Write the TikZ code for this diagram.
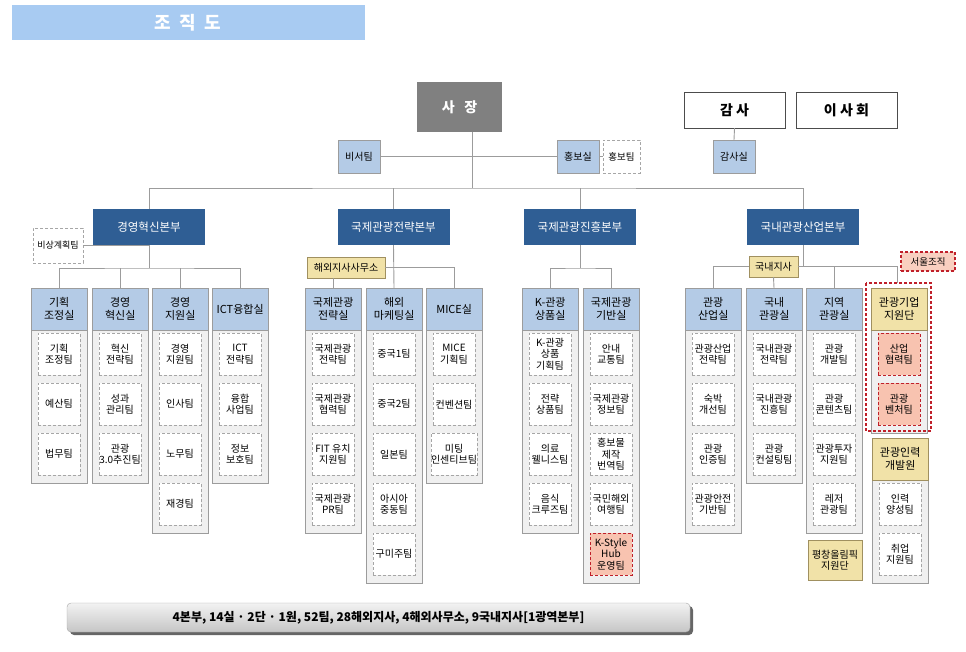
\documentclass[tikz,border=0pt]{standalone}
\usepackage{fontspec}
\setmainfont{Noto Sans CJK KR}
\definecolor{hdr}{HTML}{B4CBE6}
\definecolor{divc}{HTML}{2F5E94}
\definecolor{tan}{HTML}{F1E2A8}
\definecolor{tanb}{HTML}{A09060}
\definecolor{pinkc}{HTML}{F8C3B0}
\definecolor{redb}{HTML}{C0202A}
\definecolor{ln}{HTML}{9C9C9C}
\definecolor{bodyc}{HTML}{F0F0F0}
\definecolor{titlec}{HTML}{A8CBF2}
\tikzset{
  x=1pt,y=-1pt,
  conn/.style={draw=ln,line width=0.9pt},
  hdrbox/.style={draw=ln,fill=hdr,minimum width=56pt,minimum height=42pt,anchor=north west,inner sep=0pt,align=center,font=\fontsize{11}{13}\selectfont},
  tanhdr/.style={hdrbox,fill=tan,draw=tanb},
  t/.style={draw=gray!70,densely dashed,fill=white,minimum width=42pt,minimum height=42pt,anchor=north,inner sep=0pt,align=center,font=\fontsize{10}{11.5}\selectfont},
  p/.style={t,fill=pinkc,draw=redb},
  divbox/.style={fill=divc,text=white,minimum width=112pt,minimum height=36pt,inner sep=0pt,font=\fontsize{11.5}{13}\selectfont},
  small/.style={draw=ln,fill=hdr,minimum width=42pt,minimum height=33pt,inner sep=0pt,font=\fontsize{10}{12}\selectfont},
  tanbox/.style={draw=tanb,fill=tan,inner sep=2pt,font=\fontsize{10}{11.5}\selectfont,align=center},
}
% #1 name, #2 left x, #3 top y, #4 header style, #5 header text, #6 n teams, #7 team list
\newcommand\orgcol[7]{%
  \fill[bodyc,draw=ln,line width=0.8pt] (#2,#3) rectangle ++(56,{45+50*#6});
  \node[#4] (#1) at (#2,#3) {#5};
  \foreach \s/\tx [count=\i] in {#7} {
    \node[\s] at ({#2+28},{#3+45+50*(\i-1)}) {\tx};
  }
}
\begin{document}
\begin{tikzpicture}
\useasboundingbox (0,0) rectangle (966,651);
% title
\fill[titlec] (12,5) rectangle (365,40);
\node[text=white,font=\fontsize{18}{20}\selectfont\bfseries] (title) at (188,22.5) {조\ \ 직\ \ 도};
% top
\node[fill=gray,minimum width=85pt,minimum height=50pt,text=white,font=\fontsize{14}{16}\selectfont\bfseries] (ceo) at (459.5,107) {사\ \ \ 장};
\node[draw=black!70,fill=white,minimum width=101pt,minimum height=36pt,font=\fontsize{14}{16}\selectfont\bfseries] (gamsa) at (734.5,110) {감 사};
\node[draw=black!70,fill=white,minimum width=101pt,minimum height=36pt,font=\fontsize{14}{16}\selectfont\bfseries] (board) at (846.5,110) {이 사 회};
\node[small] (biseo) at (359,156.5) {비서팀};
\node[small] (hongbo) at (578,156.5) {홍보실};
\node[t,anchor=center,minimum width=37pt,minimum height=33pt,font=\fontsize{9.5}{11}\selectfont] (hongboteam) at (621.5,156.5) {홍보팀};
\node[small] (gamsasil) at (734,156.5) {감사실};
\coordinate (bus) at (472,188);
\draw[conn] (ceo.south -| bus) -- (bus);
\draw[conn] (biseo.east) -- (hongbo.west);
\draw[conn] (hongbo.east) -- (hongboteam.west);
\draw[conn] (gamsa.south) -- (gamsasil.north);
% divisions
\node[divbox] (d1) at (149,227) {경영혁신본부};
\node[divbox] (d2) at (393.5,227) {국제관광전략본부};
\node[divbox] (d3) at (580,227) {국제관광진흥본부};
\node[divbox] (d4) at (803,227) {국내관광산업본부};
\draw[conn] (d1.north) |- (bus) -| (d4.north);
\draw[conn] (d2.north) -- (d2.north |- bus);
\draw[conn] (d3.north) -- (d3.north |- bus);
% division 1
\node[t,anchor=center,minimum width=50pt,minimum height=35pt,font=\fontsize{9}{10}\selectfont] (bisang) at (58,245.5) {비상계획팀};
\orgcol{c11}{31}{288}{hdrbox}{기획\\조정실}{3}{t/{기획\\조정팀},t/예산팀,t/법무팀}
\orgcol{c12}{92}{288}{hdrbox}{경영\\혁신실}{3}{t/{혁신\\전략팀},t/{성과\\관리팀},t/{관광\\3.0추진팀}}
\orgcol{c13}{152}{288}{hdrbox}{경영\\지원실}{4}{t/{경영\\지원팀},t/인사팀,t/노무팀,t/재경팀}
\orgcol{c14}{212}{288}{hdrbox}{ICT융합실}{3}{t/{ICT\\전략팀},t/{융합\\사업팀},t/{정보\\보호팀}}
\coordinate (b1) at (149,268);
\draw[conn] (d1.south) -- (b1);
\draw[conn] (bisang.east) -- (bisang.east -| b1);
\draw[conn] (c11.north -| 59,0) |- (b1) -| (c14.north -| 240,0);
\draw[conn] (120,288) -- (120,268);
\draw[conn] (180,288) -- (180,268);
% division 2
\orgcol{c21}{305}{288}{hdrbox}{국제관광\\전략실}{4}{t/{국제관광\\전략팀},t/{국제관광\\협력팀},t/{FIT 유치\\지원팀},t/{국제관광\\PR팀}}
\orgcol{c22}{366}{288}{hdrbox}{해외\\마케팅실}{5}{t/중국1팀,t/중국2팀,t/일본팀,t/{아시아\\중동팀},t/구미주팀}
\orgcol{c23}{426}{288}{hdrbox}{MICE실}{3}{t/{MICE\\기획팀},t/컨벤션팀,t/{미팅\\인센티브팀}}
\node[tanbox,minimum width=78pt,minimum height=21pt,inner sep=0pt] (office) at (346,267.5) {해외지사사무소};
\draw[conn] (d2.south) -- (394,288);
\draw[conn] (office.east) -| (454,288);
\draw[conn] (333,278) -- (333,288);
% division 3
\orgcol{c31}{522}{288}{hdrbox}{K-관광\\상품실}{4}{t/{K-관광\\상품\\기획팀},t/{전략\\상품팀},t/{의료\\웰니스팀},t/{음식\\크루즈팀}}
\orgcol{c32}{583}{288}{hdrbox}{국제관광\\기반실}{5}{t/{안내\\교통팀},t/{국제관광\\정보팀},t/{홍보물\\제작\\번역팀},t/{국민해외\\여행팀},p/{K-Style\\Hub\\운영팀}}
\coordinate (b3) at (580,268);
\draw[conn] (d3.south) -- (b3);
\draw[conn] (550,288) |- (b3) -| (611,288);
% division 4
\orgcol{c41}{685}{288}{hdrbox}{관광\\산업실}{4}{t/{관광산업\\전략팀},t/{숙박\\개선팀},t/{관광\\인증팀},t/{관광안전\\기반팀}}
\orgcol{c42}{746}{288}{hdrbox}{국내\\관광실}{3}{t/{국내관광\\전략팀},t/{국내관광\\진흥팀},t/{관광\\컨설팅팀}}
\orgcol{c43}{806}{288}{hdrbox}{지역\\관광실}{4}{t/{관광\\개발팀},t/{관광\\콘텐츠팀},t/{관광투자\\지원팀},t/{레저\\관광팀}}
\orgcol{c44}{871}{288}{tanhdr}{관광기업\\지원단}{2}{p/{산업\\협력팀},p/{관광\\벤처팀}}
\orgcol{c45}{872}{438}{tanhdr}{관광인력\\개발원}{2}{t/{인력\\양성팀},t/{취업\\지원팀}}
\draw[redb,dash pattern=on 3pt off 2pt,line width=1.3pt] (866,283) rectangle (931,431);
\node[draw=redb,dash pattern=on 3pt off 2pt,line width=1.3pt,fill=pinkc!80,minimum width=54pt,minimum height=19pt,inner sep=0pt,font=\fontsize{9.5}{11}\selectfont] (seoul) at (928,261.5) {서울조직};
\node[tanbox,minimum width=49pt,minimum height=21pt,inner sep=0pt] (jisa) at (773.5,266.5) {국내지사};
\node[tanbox,minimum width=54pt,minimum height=40pt,inner sep=0pt] (pc) at (835,560) {평창올림픽\\지원단};
\draw[conn] (d4.south) -- (803,266);
\draw[conn] (713,288) |- (jisa.west);
\draw[conn] (jisa.east) -| (897,283);
\draw[conn] (834,266.5) -- (834,288);
\draw[conn] (jisa.south) -- (774,288);
% footer
\fill[black!60,rounded corners=4pt] (70,606) rectangle (693,635);
\shade[top color=gray!10,bottom color=gray!45,draw=gray!70,rounded corners=4pt] (67,603) rectangle (690,632);
\node[font=\fontsize{12}{14}\selectfont\bfseries] (foot) at (378.5,617.5) {4본부, 14실 · 2단 · 1원, 52팀, 28해외지사, 4해외사무소, 9국내지사[1광역본부]};
\end{tikzpicture}
\end{document}
